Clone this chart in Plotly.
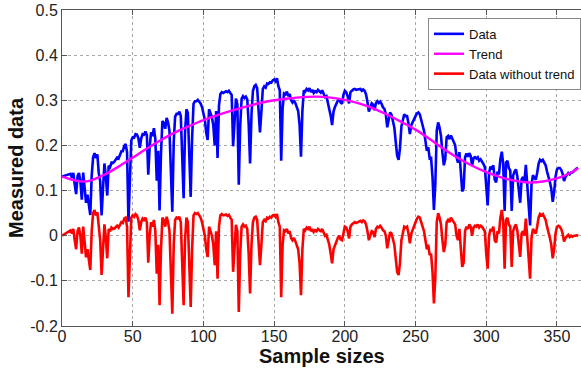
import plotly.graph_objects as go

# ---------------- data ----------------
sample_index = list(range(366))

detrended_values = [
    0.000, 0.002, 0.003, 0.005, 0.008, 0.010, 0.012, 0.005, 0.015, -0.010,
    -0.030, 0.010, 0.018, 0.000, -0.040, 0.020, -0.020, -0.048, -0.030, -0.055,
    -0.076, 0.010, 0.050, 0.057, 0.045, 0.052, 0.010, -0.010, -0.087, -0.030,
    0.025, -0.005, -0.050, 0.015, 0.010, 0.018, 0.015, 0.016, 0.020, 0.022,
    0.018, 0.025, 0.030, 0.028, 0.038, 0.040, 0.020, -0.136, -0.060, 0.040,
    0.045, 0.042, 0.048, 0.045, 0.035, 0.012, 0.030, 0.038, 0.035, 0.040,
    0.030, -0.060, 0.000, 0.030, 0.020, 0.035, 0.010, -0.084, -0.020, -0.154,
    -0.030, 0.040, 0.035, 0.020, 0.042, 0.030, 0.010, -0.100, -0.173, -0.020,
    0.035, 0.040, 0.038, 0.042, 0.030, -0.060, -0.154, -0.010, 0.040, 0.030,
    -0.050, -0.158, -0.030, 0.045, 0.050, 0.048, 0.050, 0.045, 0.040, 0.030,
    0.015, 0.000, -0.030, -0.047, 0.020, 0.010, 0.000, -0.020, -0.065, 0.010,
    -0.095, 0.020, 0.045, 0.048, 0.045, 0.046, 0.047, 0.044, 0.046, 0.040,
    0.035, -0.080, -0.020, 0.024, 0.010, -0.169, -0.040, 0.020, 0.025, 0.020,
    0.022, 0.015, -0.040, -0.128, -0.020, 0.030, 0.040, 0.042, 0.035, -0.010,
    -0.065, -0.020, 0.030, 0.035, 0.032, 0.040, 0.038, 0.042, 0.040, 0.045,
    0.046, 0.042, 0.048, 0.030, 0.020, -0.136, -0.020, 0.012, 0.010, 0.015,
    0.005, 0.010, -0.005, -0.010, -0.005, -0.012, -0.020, -0.030, -0.060, -0.132,
    -0.030, 0.015, 0.012, 0.018, 0.015, 0.020, 0.010, 0.015, 0.008, 0.012,
    0.010, 0.015, 0.012, 0.010, 0.015, 0.008, 0.000, 0.002, -0.010, -0.020,
    -0.040, -0.061, -0.030, -0.020, -0.010, -0.005, 0.000, -0.008, -0.010, 0.010,
    0.020, 0.018, 0.010, -0.006, 0.020, 0.025, 0.028, 0.030, 0.028, 0.030,
    0.032, 0.033, 0.030, 0.034, 0.032, 0.025, 0.010, -0.010, 0.000, 0.010,
    0.008, -0.003, 0.015, 0.020, 0.018, 0.022, 0.018, 0.012, 0.010, 0.000,
    -0.028, -0.010, 0.008, 0.005, -0.008, -0.020, -0.050, -0.080, -0.087, -0.060,
    -0.010, 0.010, 0.020, 0.018, 0.020, 0.005, -0.017, 0.005, 0.015, 0.020,
    0.030, 0.038, 0.042, 0.040, 0.030, 0.020, 0.010, -0.010, -0.030, -0.020,
    -0.043, -0.040, -0.080, -0.150, -0.090, 0.030, 0.050, 0.040, 0.025, -0.010,
    -0.036, -0.020, 0.030, 0.035, 0.030, 0.040, 0.035, 0.030, 0.025, 0.000,
    -0.010, 0.015, -0.040, -0.069, -0.060, 0.010, 0.020, 0.015, 0.025, 0.020,
    0.000, 0.018, 0.022, 0.020, 0.025, 0.018, 0.022, 0.020, 0.015, 0.010,
    -0.040, -0.073, 0.000, 0.015, 0.010, 0.020, -0.010, -0.015, 0.010, 0.005,
    0.040, 0.057, 0.030, -0.073, 0.035, 0.040, 0.025, 0.020, -0.069, 0.010,
    0.020, 0.025, 0.010, -0.020, -0.047, 0.005, 0.010, 0.000, 0.038, -0.005,
    -0.060, -0.095, -0.005, 0.015, 0.010, 0.005, 0.020, 0.040, 0.048, 0.045,
    0.048, 0.040, 0.035, 0.020, 0.010, -0.005, -0.020, -0.050, -0.030, 0.005,
    0.020, 0.022, 0.020, 0.015, 0.005, -0.013, -0.005, 0.000, 0.002, -0.003,
    0.000, -0.002, 0.000, 0.000, 0.001, 0.000,
]

data_values = [
    0.131, 0.132, 0.132, 0.133, 0.135, 0.136, 0.137, 0.129, 0.139, 0.113,
    0.092, 0.132, 0.139, 0.121, 0.080, 0.140, 0.100, 0.073, 0.091, 0.067,
    0.046, 0.133, 0.174, 0.183, 0.172, 0.180, 0.139, 0.121, 0.045, 0.104,
    0.160, 0.132, 0.089, 0.155, 0.152, 0.162, 0.161, 0.164, 0.169, 0.173,
    0.171, 0.180, 0.187, 0.187, 0.199, 0.203, 0.185, 0.031, 0.109, 0.211,
    0.218, 0.217, 0.225, 0.224, 0.216, 0.195, 0.215, 0.225, 0.224, 0.231,
    0.223, 0.135, 0.197, 0.229, 0.221, 0.238, 0.214, 0.122, 0.188, 0.056,
    0.182, 0.254, 0.250, 0.237, 0.261, 0.251, 0.232, 0.124, 0.053, 0.207,
    0.264, 0.270, 0.270, 0.275, 0.265, 0.176, 0.083, 0.229, 0.280, 0.272,
    0.193, 0.086, 0.216, 0.292, 0.298, 0.298, 0.301, 0.297, 0.293, 0.285,
    0.271, 0.257, 0.228, 0.212, 0.280, 0.272, 0.263, 0.244, 0.200, 0.276,
    0.172, 0.288, 0.314, 0.318, 0.316, 0.318, 0.320, 0.318, 0.321, 0.316,
    0.312, 0.198, 0.259, 0.304, 0.291, 0.113, 0.242, 0.303, 0.309, 0.305,
    0.308, 0.302, 0.248, 0.160, 0.269, 0.320, 0.331, 0.334, 0.327, 0.283,
    0.229, 0.275, 0.325, 0.331, 0.328, 0.337, 0.336, 0.340, 0.339, 0.344,
    0.346, 0.342, 0.349, 0.331, 0.322, 0.166, 0.282, 0.315, 0.313, 0.319,
    0.309, 0.314, 0.300, 0.295, 0.300, 0.294, 0.286, 0.276, 0.246, 0.175,
    0.277, 0.322, 0.319, 0.325, 0.322, 0.327, 0.318, 0.323, 0.316, 0.320,
    0.318, 0.323, 0.320, 0.317, 0.322, 0.315, 0.307, 0.309, 0.296, 0.286,
    0.266, 0.245, 0.275, 0.285, 0.294, 0.299, 0.303, 0.295, 0.292, 0.312,
    0.321, 0.318, 0.309, 0.293, 0.318, 0.322, 0.324, 0.325, 0.323, 0.324,
    0.325, 0.325, 0.321, 0.324, 0.321, 0.313, 0.296, 0.275, 0.284, 0.293,
    0.290, 0.278, 0.294, 0.298, 0.294, 0.297, 0.292, 0.284, 0.281, 0.269,
    0.240, 0.256, 0.273, 0.268, 0.254, 0.240, 0.208, 0.177, 0.168, 0.194,
    0.242, 0.260, 0.269, 0.265, 0.265, 0.249, 0.225, 0.245, 0.253, 0.257,
    0.265, 0.271, 0.273, 0.269, 0.257, 0.245, 0.232, 0.210, 0.188, 0.196,
    0.171, 0.172, 0.130, 0.057, 0.115, 0.233, 0.251, 0.239, 0.221, 0.184,
    0.156, 0.170, 0.218, 0.221, 0.214, 0.222, 0.215, 0.208, 0.201, 0.174,
    0.162, 0.185, 0.129, 0.098, 0.105, 0.174, 0.182, 0.175, 0.183, 0.177,
    0.155, 0.172, 0.174, 0.171, 0.174, 0.166, 0.169, 0.165, 0.159, 0.152,
    0.101, 0.067, 0.139, 0.153, 0.147, 0.156, 0.124, 0.118, 0.142, 0.136,
    0.170, 0.186, 0.158, 0.055, 0.162, 0.166, 0.150, 0.144, 0.055, 0.133,
    0.142, 0.147, 0.131, 0.101, 0.073, 0.125, 0.130, 0.119, 0.157, 0.113,
    0.058, 0.023, 0.113, 0.134, 0.129, 0.124, 0.139, 0.159, 0.168, 0.165,
    0.168, 0.161, 0.156, 0.142, 0.133, 0.119, 0.104, 0.075, 0.096, 0.131,
    0.147, 0.150, 0.150, 0.146, 0.137, 0.121, 0.130, 0.136, 0.139, 0.136,
    0.140, 0.140, 0.144, 0.146, 0.149, 0.150,
]

trend_x = [0, 5, 10, 15, 20, 25, 30, 40, 50, 60, 70, 80, 90, 100, 110, 120,
           130, 140, 150, 160, 170, 180, 190, 200, 210, 220, 230, 240, 250,
           260, 270, 280, 290, 300, 310, 320, 330, 340, 350, 360, 365]
trend_values = [0.131, 0.126, 0.122, 0.120, 0.122, 0.128, 0.135, 0.153, 0.173,
                0.193, 0.212, 0.229, 0.243, 0.256, 0.267, 0.277, 0.286, 0.294,
                0.300, 0.304, 0.307, 0.308, 0.306, 0.301, 0.293, 0.282, 0.268,
                0.252, 0.235, 0.214, 0.192, 0.172, 0.155, 0.141, 0.130, 0.122,
                0.118, 0.120, 0.127, 0.140, 0.150]

series_names = ["Data", "Trend", "Data without trend"]
x_axis_title = "Sample sizes"
y_axis_title = "Measured data"
x_tick_values = [0, 50, 100, 150, 200, 250, 300, 350]
x_tick_labels = ["0", "50", "100", "150", "200", "250", "300", "350"]
y_tick_values = [-0.2, -0.1, 0, 0.1, 0.2, 0.3, 0.4, 0.5]
y_tick_labels = ["-0.2", "-0.1", "0", "0.1", "0.2", "0.3", "0.4", "0.5"]

# ---------------- figure ----------------
FONT = "Liberation Sans, Arial, sans-serif"

fig = go.Figure()
fig.add_trace(go.Scatter(x=sample_index, y=data_values, mode="lines",
                         name=series_names[0],
                         line=dict(color="rgb(0,0,255)", width=2.6)))
fig.add_trace(go.Scatter(x=trend_x, y=trend_values, mode="lines",
                         name=series_names[1],
                         line=dict(color="rgb(255,0,255)", width=2.4,
                                   shape="spline")))
fig.add_trace(go.Scatter(x=sample_index, y=detrended_values, mode="lines",
                         name=series_names[2],
                         line=dict(color="rgb(255,0,0)", width=2.6)))

grid = dict(showgrid=True, gridcolor="#a8a8a8", gridwidth=1, griddash="dot")

fig.update_xaxes(range=[0, 367], tickvals=x_tick_values, ticktext=x_tick_labels,
                 ticks="inside", ticklen=5, tickcolor="#555",
                 showline=True, linecolor="#555", linewidth=1, mirror="ticks",
                 zeroline=False,
                 tickfont=dict(family=FONT, size=16, color="#222"),
                 **grid)
try:
    fig.update_xaxes(ticklabelstandoff=-4)
except Exception:
    pass
fig.update_yaxes(range=[-0.2, 0.5], tickvals=y_tick_values, ticktext=y_tick_labels,
                 ticks="inside", ticklen=5, tickcolor="#555",
                 showline=True, linecolor="#555", linewidth=1,
                 zeroline=False,
                 tickfont=dict(family=FONT, size=16, color="#222"),
                 title=dict(text="<b>" + y_axis_title + "</b>", standoff=1,
                            font=dict(family=FONT, size=20, color="#111")),
                 **grid)

# x-axis title as an annotation so it can sit just below the tick labels
fig.add_annotation(text="<b>" + x_axis_title + "</b>", showarrow=False,
                   xref="paper", yref="paper", x=0.5, y=-0.096,
                   xanchor="center", yanchor="middle",
                   font=dict(family=FONT, size=20, color="#111"))

fig.update_layout(
    width=581, height=369,
    margin=dict(l=62, r=0, t=10, b=43, autoexpand=False),
    paper_bgcolor="white", plot_bgcolor="white",
    showlegend=True,
    legend=dict(x=1.0, y=0.975, xanchor="right", yanchor="top",
                bgcolor="white", bordercolor="#888", borderwidth=1,
                font=dict(family=FONT, size=13, color="#111"),
                itemwidth=30, tracegroupgap=0),
)

fig.write_html(
    "out.html",
    config={"displayModeBar": False},
    post_script="document.body.style.margin='0px';"
                "document.body.style.overflow='hidden';",
)
